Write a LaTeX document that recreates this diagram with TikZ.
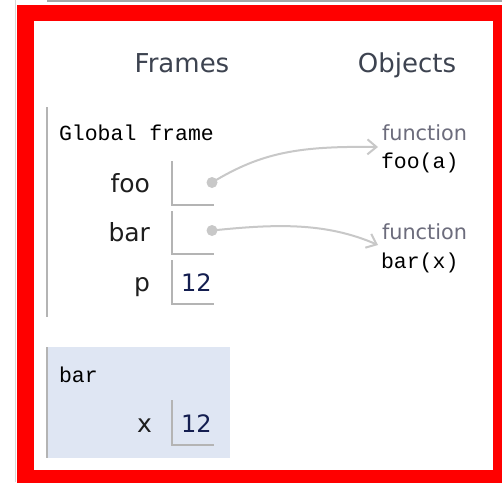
\documentclass[tikz,border=0pt]{standalone}
\usepackage{fontspec}
\setmainfont{DejaVu Sans}
\newfontfamily\monof{Liberation Mono}
\usetikzlibrary{arrows.meta}
\definecolor{redborder}{HTML}{FF0000}
\definecolor{headcol}{HTML}{3D4350}
\definecolor{varcol}{HTML}{1E1E1E}
\definecolor{valcol}{HTML}{141E50}
\definecolor{boxline}{HTML}{B4B4B4}
\definecolor{ptrcol}{HTML}{C8C8C8}
\definecolor{funccol}{HTML}{6C6C7C}
\definecolor{framebg}{HTML}{DFE6F3}
\definecolor{edgegray}{HTML}{D8D8D8}
\tikzset{
  txt/.style={inner sep=0pt, outer sep=0pt},
  head/.style={txt, anchor=base, font=\fontsize{26}{26}\selectfont, text=headcol},
  mono/.style={txt, anchor=base west, font=\monof\fontsize{21.5}{21.5}\selectfont, text=black},
  varname/.style={txt, anchor=base east, font=\fontsize{25}{25}\selectfont, text=varcol},
  valtxt/.style={txt, anchor=base west, font=\fontsize{24}{24}\selectfont, text=valcol},
  functxt/.style={txt, anchor=base west, font=\fontsize{20.8}{20.8}\selectfont, text=funccol},
  valbox/.style={draw=boxline, line width=1.8pt},
  frameline/.style={draw=boxline, line width=1.8pt},
  ptrdot/.style={circle, fill=ptrcol, inner sep=0pt, minimum size=11pt},
  ptr/.style={draw=ptrcol, line width=2pt, -{Straight Barb[length=9pt,width=15pt,line width=2pt]}},
}
\begin{document}
\begin{tikzpicture}[x=1pt,y=-1pt]
\useasboundingbox (0,0) rectangle (502,482);
% screenshot edges
\draw[edgegray, line width=1.5pt] (15.5,0) -- (15.5,482);
\draw[gray!70, line width=1.5pt] (47,1) -- (502,1);
% red border
\draw[redborder, line width=16.5pt] (25.5,13) rectangle (500.75,477.75);
\fill[white] (34,21.5) rectangle (492.5,469.5);
% headings
\node[head] (frames) at (182,72) {Frames};
\node[head] (objects) at (407,72) {Objects};
% global frame
\draw[frameline] (47,107) -- (47,317);
\node[mono] (global) at (59,140) {Global frame};
\node[varname] (vfoo) at (150,192) {foo};
\node[varname] (vbar) at (150,241) {bar};
\node[varname] (vp) at (150,291) {p};
\draw[valbox] (172,161) -- (172,205) -- (214,205);
\draw[valbox] (172,211) -- (172,254) -- (214,254);
\draw[valbox] (172,260) -- (172,304) -- (214,304);
\node[valtxt] (pval) at (181,291) {12};
\node[ptrdot] (dfoo) at (212,182.5) {};
\node[ptrdot] (dbar) at (212,230.5) {};
% objects
\node[functxt] (f1) at (382,140) {function};
\node[mono] (foosig) at (381,168) {foo(a)};
\node[functxt] (f2) at (382,239) {function};
\node[mono] (barsig) at (381,268) {bar(x)};
\coordinate (tfoo) at (378,147);
\coordinate (tbar) at (378,245);
\draw[ptr] (dfoo.center) .. controls (262,152) and (300,146) .. (tfoo);
\draw[ptr] (dbar.center) .. controls (275,224) and (325,222) .. (tbar);
% bar frame
\fill[framebg] (47,347) rectangle (230,458);
\draw[frameline] (47,347) -- (47,458);
\node[mono] (barname) at (59,382) {bar};
\node[varname] (vx) at (152,432) {x};
\draw[valbox] (172,400) -- (172,445) -- (214,445);
\node[valtxt] (xval) at (181,432) {12};
\end{tikzpicture}
\end{document}
